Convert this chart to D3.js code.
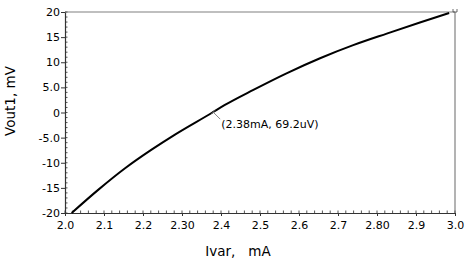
<!DOCTYPE html>
<html>
<head>
<meta charset="utf-8">
<script src="https://cdn.jsdelivr.net/npm/d3@7"></script>
<style>
  body { margin: 0; background: #fff; }
  svg { display: block; font-family: "DejaVu Sans", Verdana, sans-serif; }
</style>
</head>
<body>
<svg id="chart" width="465" height="261"></svg>
<script>
// values
const ivar = [2.017, 2.085, 2.154, 2.222, 2.282, 2.376, 2.41, 2.483, 2.568, 2.654, 2.739, 2.825, 2.91, 2.985];
const vout = [-20, -15.4, -11.1, -7.4, -4.4, -0.1, 1.5, 4.5, 7.8, 10.8, 13.4, 15.7, 17.9, 19.8];
const xTicks = [2.0, 2.1, 2.2, 2.3, 2.4, 2.5, 2.6, 2.7, 2.8, 2.9, 3.0];
const xTickLabels = ["2.0", "2.1", "2.2", "2.30", "2.4", "2.5", "2.6", "2.7", "2.80", "2.9", "3.0"];
const yTicks = [-20, -15, -10, -5, 0, 5, 10, 15, 20];
const yTickLabels = ["-20", "-15", "-10", "-5.0", "0", "5.0", "10", "15", "20"];
const marker = { x: 2.38, y: 0.0692, label: "(2.38mA, 69.2uV)" };

const svg = d3.select("#chart");
const plotLeft = 65, plotRight = 455, plotTop = 12, plotBottom = 213;

const x = d3.scaleLinear().domain([2, 3]).range([plotLeft, plotRight]);
const y = d3.scaleLinear().domain([-20, 20]).range([plotBottom, plotTop]);

// frame: top and right in gray
svg.append("line").attr("x1", plotLeft).attr("x2", plotRight).attr("y1", plotTop).attr("y2", plotTop)
  .attr("stroke", "#808080").attr("stroke-width", 1.2);
svg.append("line").attr("x1", plotRight).attr("x2", plotRight).attr("y1", plotTop).attr("y2", plotBottom)
  .attr("stroke", "#808080").attr("stroke-width", 1.2);

// minor ticks
const xMinor = d3.range(2, 3.0001, 0.02);
const yMinor = d3.range(-20, 20.0001, 1);
svg.append("g").selectAll("line").data(xMinor).enter().append("line")
  .attr("x1", d => x(d)).attr("x2", d => x(d))
  .attr("y1", plotBottom).attr("y2", plotBottom - 2.5)
  .attr("stroke", "#555").attr("stroke-width", 1);
svg.append("g").selectAll("line").data(yMinor).enter().append("line")
  .attr("x1", plotLeft).attr("x2", plotLeft + 2.5)
  .attr("y1", d => y(d)).attr("y2", d => y(d))
  .attr("stroke", "#555").attr("stroke-width", 1);

// axes
const xAxis = svg.append("g")
  .attr("transform", `translate(0,${plotBottom})`)
  .call(d3.axisBottom(x).tickValues(xTicks).tickSize(3).tickSizeOuter(0)
    .tickFormat((d, i) => xTickLabels[i]));
const yAxis = svg.append("g")
  .attr("transform", `translate(${plotLeft},0)`)
  .call(d3.axisLeft(y).tickValues(yTicks).tickSize(4).tickSizeOuter(0)
    .tickFormat((d, i) => yTickLabels[i]));

[xAxis, yAxis].forEach(g => {
  g.select(".domain").attr("stroke", "#333").attr("stroke-width", 1.2);
  g.selectAll(".tick line").attr("stroke", "#333");
  g.selectAll(".tick text").attr("fill", "#000")
    .style("font-family", '"DejaVu Sans", Verdana, sans-serif')
    .style("font-size", "11px");
});
xAxis.selectAll(".tick text").attr("dy", "0.9em");
yAxis.selectAll(".tick text").attr("x", -5);

// curve
const line = d3.line().x(d => x(d[0])).y(d => y(d[1])).curve(d3.curveMonotoneX);
svg.append("path")
  .datum(ivar.map((v, i) => [v, vout[i]]))
  .attr("fill", "none").attr("stroke", "#000").attr("stroke-width", 2)
  .attr("d", line);

// end marker at top-right
svg.append("path")
  .attr("d", `M${plotRight - 2},${plotTop - 3} L${plotRight - 2},${plotTop} L${plotRight + 2},${plotTop} L${plotRight + 2},${plotTop - 3}`)
  .attr("fill", "none").attr("stroke", "#444").attr("stroke-width", 0.8);

// annotation
const mx = x(marker.x), my = y(marker.y);
svg.append("line").attr("x1", mx).attr("y1", my).attr("x2", mx + 7).attr("y2", my + 7)
  .attr("stroke", "#888").attr("stroke-width", 1);
svg.append("line").attr("x1", mx - 2).attr("y1", my + 2).attr("x2", mx + 2).attr("y2", my - 2)
  .attr("stroke", "#666").attr("stroke-width", 1);
svg.append("text").attr("x", mx + 8).attr("y", my + 16)
  .attr("font-size", "11px").attr("fill", "#000")
  .text(marker.label);

// axis titles
svg.append("text").attr("x", 238).attr("y", 256).attr("text-anchor", "middle")
  .attr("font-size", "13.5px").attr("fill", "#000")
  .style("white-space", "pre")
  .text("Ivar,   mA");
svg.append("text").attr("transform", "translate(15,101) rotate(-90)")
  .attr("text-anchor", "middle").attr("font-size", "13.5px").attr("fill", "#000")
  .text("Vout1, mV");
</script>
</body>
</html>
